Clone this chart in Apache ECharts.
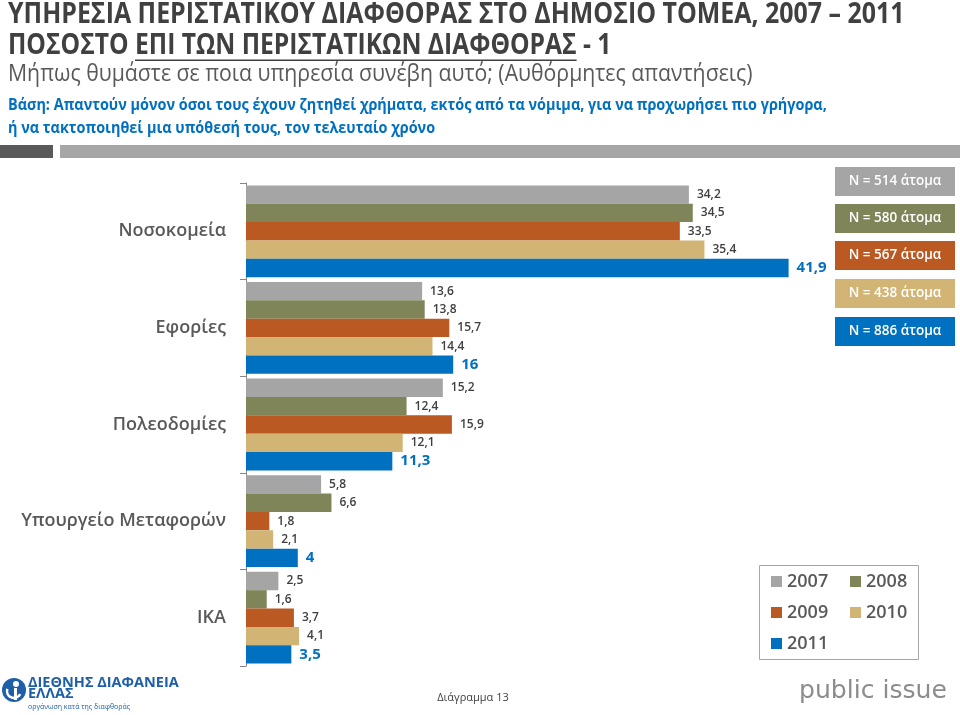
<!DOCTYPE html>
<html><head><meta charset="utf-8">
<script src="https://cdn.jsdelivr.net/npm/echarts@6/dist/echarts.min.js"></script>
<style>html,body{margin:0;padding:0;background:#fff}#c{width:960px;height:715px}</style>
</head><body><div id="c"></div>
<script>
// ---- data ----
const categories = ['Νοσοκομεία', 'Εφορίες', 'Πολεοδομίες', 'Υπουργείο Μεταφορών', 'ΙΚΑ'];
const years = ['2007', '2008', '2009', '2010', '2011'];
const v2007 = [34.2, 13.6, 15.2, 5.8, 2.5];
const v2008 = [34.5, 13.8, 12.4, 6.6, 1.6];
const v2009 = [33.5, 15.7, 15.9, 1.8, 3.7];
const v2010 = [35.4, 14.4, 12.1, 2.1, 4.1];
const v2011 = [41.9, 16, 11.3, 4, 3.5];
const sampleSizes = ['N = 514 άτομα', 'N = 580 άτομα', 'N = 567 άτομα', 'N = 438 άτομα', 'N = 886 άτομα'];
const titleLine1 = 'ΥΠΗΡΕΣΙΑ ΠΕΡΙΣΤΑΤΙΚΟΥ ΔΙΑΦΘΟΡΑΣ ΣΤΟ ΔΗΜΟΣΙΟ ΤΟΜΕΑ, 2007 – 2011';
const titleLine2 = ['ΠΟΣΟΣΤΟ ', 'ΕΠΙ ΤΩΝ ΠΕΡΙΣΤΑΤΙΚΩΝ ΔΙΑΦΘΟΡΑΣ', ' - 1'];
const subtitle = 'Μήπως θυμάστε σε ποια υπηρεσία συνέβη αυτό; (Αυθόρμητες απαντήσεις)';
const baseLine1 = 'Βάση: Απαντούν μόνον όσοι τους έχουν ζητηθεί χρήματα, εκτός από τα νόμιμα, για να προχωρήσει πιο γρήγορα,';
const baseLine2 = 'ή να τακτοποιηθεί μια υπόθεσή τους, τον τελευταίο χρόνο';
const footerText = 'Διάγραμμα 13';

const seriesValues = [v2007, v2008, v2009, v2010, v2011];
const colors = ['#A5A5A5', '#7F8559', '#BA5A22', '#D2B475', '#0070C0'];

const FONT = "'Open Sans', 'Noto Sans', 'DejaVu Sans', sans-serif";
const ctx = document.createElement('canvas').getContext('2d');
function tw(text, weight, size, fam) { ctx.font = weight + ' ' + size + 'px ' + (fam || FONT); return ctx.measureText(text).width; }
function fit(text, weight, target, fam) { return 20 * target / tw(text, weight, 20, fam); }

const chart = echarts.init(document.getElementById('c'));
const g = [];
function txt(text, x, y, size, weight, fill, align, fam, sy) {
  g.push({ type: 'text', x: x, y: y, scaleY: sy || 1, silent: true, style: { text: text, fontSize: size, fontWeight: weight, fontFamily: fam || FONT, fill: fill, align: align || 'left', verticalAlign: 'middle' } });
}
// titles
const s1 = fit(titleLine1, 'bold', 897);
txt(titleLine1, 8, 15, s1, 'bold', '#404040', 'left', null, 1.15);
const full2 = titleLine2.join('');
const s2 = fit(full2, 'bold', 604);
const w0 = tw(titleLine2[0], 'bold', s2), w1 = tw(titleLine2[1], 'bold', s2);
txt(full2, 8, 46, s2, 'bold', '#404040', 'left', null, 1.15);
g.push({ type: 'line', silent: true, shape: { x1: 8 + w0, y1: 46 + s2 * 0.58, x2: 8 + w0 + w1, y2: 46 + s2 * 0.58 }, style: { stroke: '#404040', lineWidth: 1.5 } });
const s3 = fit(subtitle, 'normal', 745);
txt(subtitle, 8, 74, s3, 'normal', '#595959', 'left', null, 1.1);
const s4 = fit(baseLine1, 'bold', 819);
txt(baseLine1, 8, 105, s4, 'bold', '#0070C0', 'left', null, 1.1);
txt(baseLine2, 8, 128, s4, 'bold', '#0070C0', 'left', null, 1.1);
// separator bars
g.push({ type: 'rect', silent: true, shape: { x: 0, y: 145, width: 53, height: 13 }, style: { fill: '#595959' } });
g.push({ type: 'rect', silent: true, shape: { x: 60, y: 145, width: 900, height: 13 }, style: { fill: '#A6A6A6' } });
// N boxes
const boxTops = [167, 204, 241, 279, 317];
sampleSizes.forEach((s, i) => {
  g.push({ type: 'rect', silent: true, shape: { x: 835, y: boxTops[i], width: 120, height: 29 }, style: { fill: colors[i] } });
  txt(s, 895, boxTops[i] + 14.5, 13.5, 600, '#FFFFFF', 'center');
});
// legend border
g.push({ type: 'rect', silent: true, shape: { x: 759.5, y: 565.5, width: 159, height: 94 }, style: { fill: 'none', stroke: '#A6A6A6', lineWidth: 1 } });
// footer
txt(footerText, 473, 698, 11, 'normal', '#404040', 'center');
const sp = fit('public issue', 'normal', 148, "'DejaVu Sans', sans-serif");
txt('public issue', 799, 691, sp, 'normal', '#8C8C8C', 'left', "'DejaVu Sans', sans-serif");
// logo
g.push({ type: 'circle', silent: true, shape: { cx: 14, cy: 690, r: 12 }, style: { fill: '#1F5FA8' } });
g.push({ type: 'circle', silent: true, shape: { cx: 16, cy: 684, r: 3 }, style: { fill: '#FFFFFF' } });
g.push({ type: 'arc', silent: true, shape: { cx: 14, cy: 691, r: 7, startAngle: Math.PI * 0.15, endAngle: Math.PI * 1.1 }, style: { stroke: '#FFFFFF', lineWidth: 2.5, fill: 'none' } });
g.push({ type: 'rect', silent: true, shape: { x: 14, y: 688, width: 3, height: 12 }, style: { fill: '#FFFFFF' } });
txt('ΔΙΕΘΝΗΣ ΔΙΑΦΑΝΕΙΑ', 28, 683, 14.5, 'bold', '#1F5FA8');
txt('ΕΛΛΑΣ', 28, 694, 14.5, 'bold', '#1F5FA8');
txt('οργάνωση κατά της διαφθοράς', 28, 707, 7, 'normal', '#1F5FA8');

const pxPerUnit = 12.95, xMax = 50;
chart.setOption({
  animation: false,
  grid: { left: 246, top: 183, width: pxPerUnit * xMax, height: 483, containLabel: false },
  xAxis: { type: 'value', min: 0, max: xMax, show: false },
  yAxis: {
    type: 'category', data: categories, inverse: true,
    axisLine: { show: true, lineStyle: { color: '#868686' } },
    axisTick: { show: true, length: 6, lineStyle: { color: '#868686' } },
    axisLabel: { margin: 20, fontSize: 18, fontWeight: 600, color: '#595959', fontFamily: FONT }
  },
  legend: {
    data: years, left: 771, top: 569, width: 160, padding: 0,
    itemWidth: 11, itemHeight: 11, itemGap: 6, icon: 'rect',
    textStyle: { fontSize: 18, fontWeight: 600, color: '#595959', fontFamily: FONT, width: 57, lineHeight: 25 }
  },
  series: years.map((y, i) => ({
    name: y, type: 'bar', data: seriesValues[i], barGap: 0, barCategoryGap: '5%',
    itemStyle: { color: colors[i] },
    label: {
      show: true, position: 'right', distance: 8,
      formatter: p => String(p.value).replace('.', ','),
      color: i === 4 ? '#0070C0' : '#404040', fontSize: i === 4 ? 15 : 12,
      fontWeight: i === 4 ? 'bold' : 600, fontFamily: FONT
    }
  })),
  graphic: g
});
</script></body></html>
